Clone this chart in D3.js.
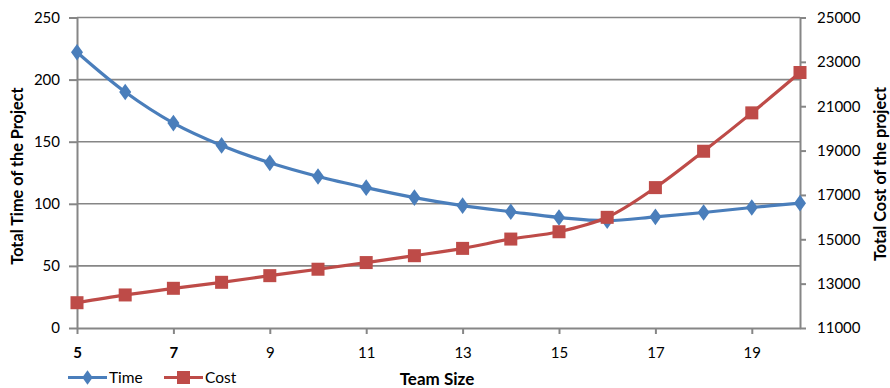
<!DOCTYPE html>
<html>
<head>
<meta charset="utf-8">
<script src="https://cdn.jsdelivr.net/npm/d3@7/dist/d3.min.js"></script>
<style>
  html, body { margin: 0; padding: 0; background: #fff; }
  svg { display: block; font-family: Lato, "Open Sans", sans-serif; }
</style>
</head>
<body>
<svg id="chart" width="890" height="388"></svg>
<script>
// Team size vs. project duration and cost
const teamSizes = [5, 6, 7, 8, 9, 10, 11, 12, 13, 14, 15, 16, 17, 18, 19, 20];
const timeValues = [222, 190, 165, 147, 133, 122, 113, 105, 98.5, 93.6, 89, 86.5, 89.5, 93, 97, 100.5];
const costValues = [12140, 12490, 12790, 13060, 13360, 13650, 13950, 14260, 14590, 15010, 15340, 15990, 17330, 18970, 20700, 22520];
const xTicks = [5, 7, 9, 11, 13, 15, 17, 19];
const timeTicks = [0, 50, 100, 150, 200, 250];
const costTicks = [11000, 13000, 15000, 17000, 19000, 21000, 23000, 25000];
const boldXTicks = [5, 7];

const svg = d3.select("#chart");
const plotLeft = 77, plotRight = 800, plotTop = 17.5, plotBottom = 328;
const axisColor = "#868686";
const timeColor = "#4a7ebb";
const costColor = "#be4b48";

const x = d3.scaleLinear().domain([5, 20]).range([plotLeft, plotRight]);
const yTime = d3.scaleLinear().domain([0, 250]).range([plotBottom, plotTop]);
const yCost = d3.scaleLinear().domain([11000, 25000]).range([plotBottom, plotTop]);

// horizontal gridlines at the left-axis ticks
svg.append("g")
  .selectAll("line")
  .data(timeTicks.filter(d => d > 0))
  .join("line")
  .attr("x1", plotLeft).attr("x2", plotRight)
  .attr("y1", d => yTime(d)).attr("y2", d => yTime(d))
  .attr("stroke", axisColor).attr("stroke-width", 1.6);

function styleAxis(g) {
  g.select(".domain").attr("stroke", axisColor).attr("stroke-width", 2);
  g.selectAll(".tick line").attr("stroke", axisColor).attr("stroke-width", 2);
  g.selectAll(".tick text").attr("fill", "#000").attr("font-size", 15)
    .attr("font-family", "Lato, 'Open Sans', sans-serif");
}

// left axis: total time
svg.append("g")
  .attr("transform", `translate(${plotLeft},0)`)
  .call(d3.axisLeft(yTime).tickValues(timeTicks).tickSize(8).tickPadding(9).tickSizeOuter(0))
  .call(styleAxis);

// right axis: total cost
svg.append("g")
  .attr("transform", `translate(${plotRight},0)`)
  .call(d3.axisRight(yCost).tickValues(costTicks).tickFormat(d3.format("d")).tickSize(6).tickPadding(11).tickSizeOuter(0))
  .call(styleAxis);

// bottom axis: team size
const xAxis = svg.append("g")
  .attr("transform", `translate(0,${plotBottom})`)
  .call(d3.axisBottom(x).tickValues(xTicks).tickFormat(d3.format("d")).tickSize(6).tickPadding(13).tickSizeOuter(0))
  .call(styleAxis);
xAxis.selectAll(".tick text")
  .attr("font-weight", d => boldXTicks.includes(d) ? "bold" : "normal");

// series lines
const timeLine = d3.line()
  .x((d, i) => x(teamSizes[i]))
  .y(d => yTime(d))
  .curve(d3.curveCatmullRom);
const costLine = d3.line()
  .x((d, i) => x(teamSizes[i]))
  .y(d => yCost(d))
  .curve(d3.curveCatmullRom);

svg.append("path").datum(timeValues)
  .attr("d", timeLine).attr("fill", "none")
  .attr("stroke", timeColor).attr("stroke-width", 3.2);
svg.append("path").datum(costValues)
  .attr("d", costLine).attr("fill", "none")
  .attr("stroke", costColor).attr("stroke-width", 3.2);

// markers
const diamond = d3.symbol().type(d3.symbolDiamond).size(80);
svg.append("g").selectAll("path")
  .data(timeValues)
  .join("path")
  .attr("d", diamond)
  .attr("transform", (d, i) => `translate(${x(teamSizes[i])},${yTime(d)}) scale(1.25,1)`)
  .attr("fill", timeColor);

const sq = 13;
svg.append("g").selectAll("rect")
  .data(costValues)
  .join("rect")
  .attr("x", (d, i) => x(teamSizes[i]) - sq / 2)
  .attr("y", d => yCost(d) - sq / 2)
  .attr("width", sq).attr("height", sq)
  .attr("fill", costColor);

// axis titles
svg.append("text")
  .attr("transform", "translate(23,176) rotate(-90)")
  .attr("text-anchor", "middle")
  .attr("font-size", 16.3).attr("font-weight", "bold")
  .text("Total Time of the Project");
svg.append("text")
  .attr("transform", "translate(886,174) rotate(-90)")
  .attr("text-anchor", "middle")
  .attr("font-size", 16.3).attr("font-weight", "bold")
  .text("Total Cost of the project");
svg.append("text")
  .attr("x", 437).attr("y", 385)
  .attr("text-anchor", "middle")
  .attr("font-size", 17).attr("font-weight", "bold")
  .text("Team Size");

// legend
const legend = [
  { name: "Time", color: timeColor, shape: "diamond", x0: 68 },
  { name: "Cost", color: costColor, shape: "square", x0: 164 }
];
const lg = svg.append("g");
legend.forEach(item => {
  const cy = 377.5;
  lg.append("line")
    .attr("x1", item.x0).attr("x2", item.x0 + 39)
    .attr("y1", cy).attr("y2", cy)
    .attr("stroke", item.color).attr("stroke-width", 3.2);
  if (item.shape === "diamond") {
    lg.append("path")
      .attr("d", d3.symbol().type(d3.symbolDiamond).size(60)())
      .attr("transform", `translate(${item.x0 + 19.5},${cy}) scale(1.25,1)`)
      .attr("fill", item.color);
  } else {
    lg.append("rect")
      .attr("x", item.x0 + 19.5 - 6.5).attr("y", cy - 6.5)
      .attr("width", 13).attr("height", 13)
      .attr("fill", item.color);
  }
  lg.append("text")
    .attr("x", item.x0 + 41).attr("y", 383)
    .attr("font-size", 15.5)
    .text(item.name);
});
</script>
</body>
</html>
